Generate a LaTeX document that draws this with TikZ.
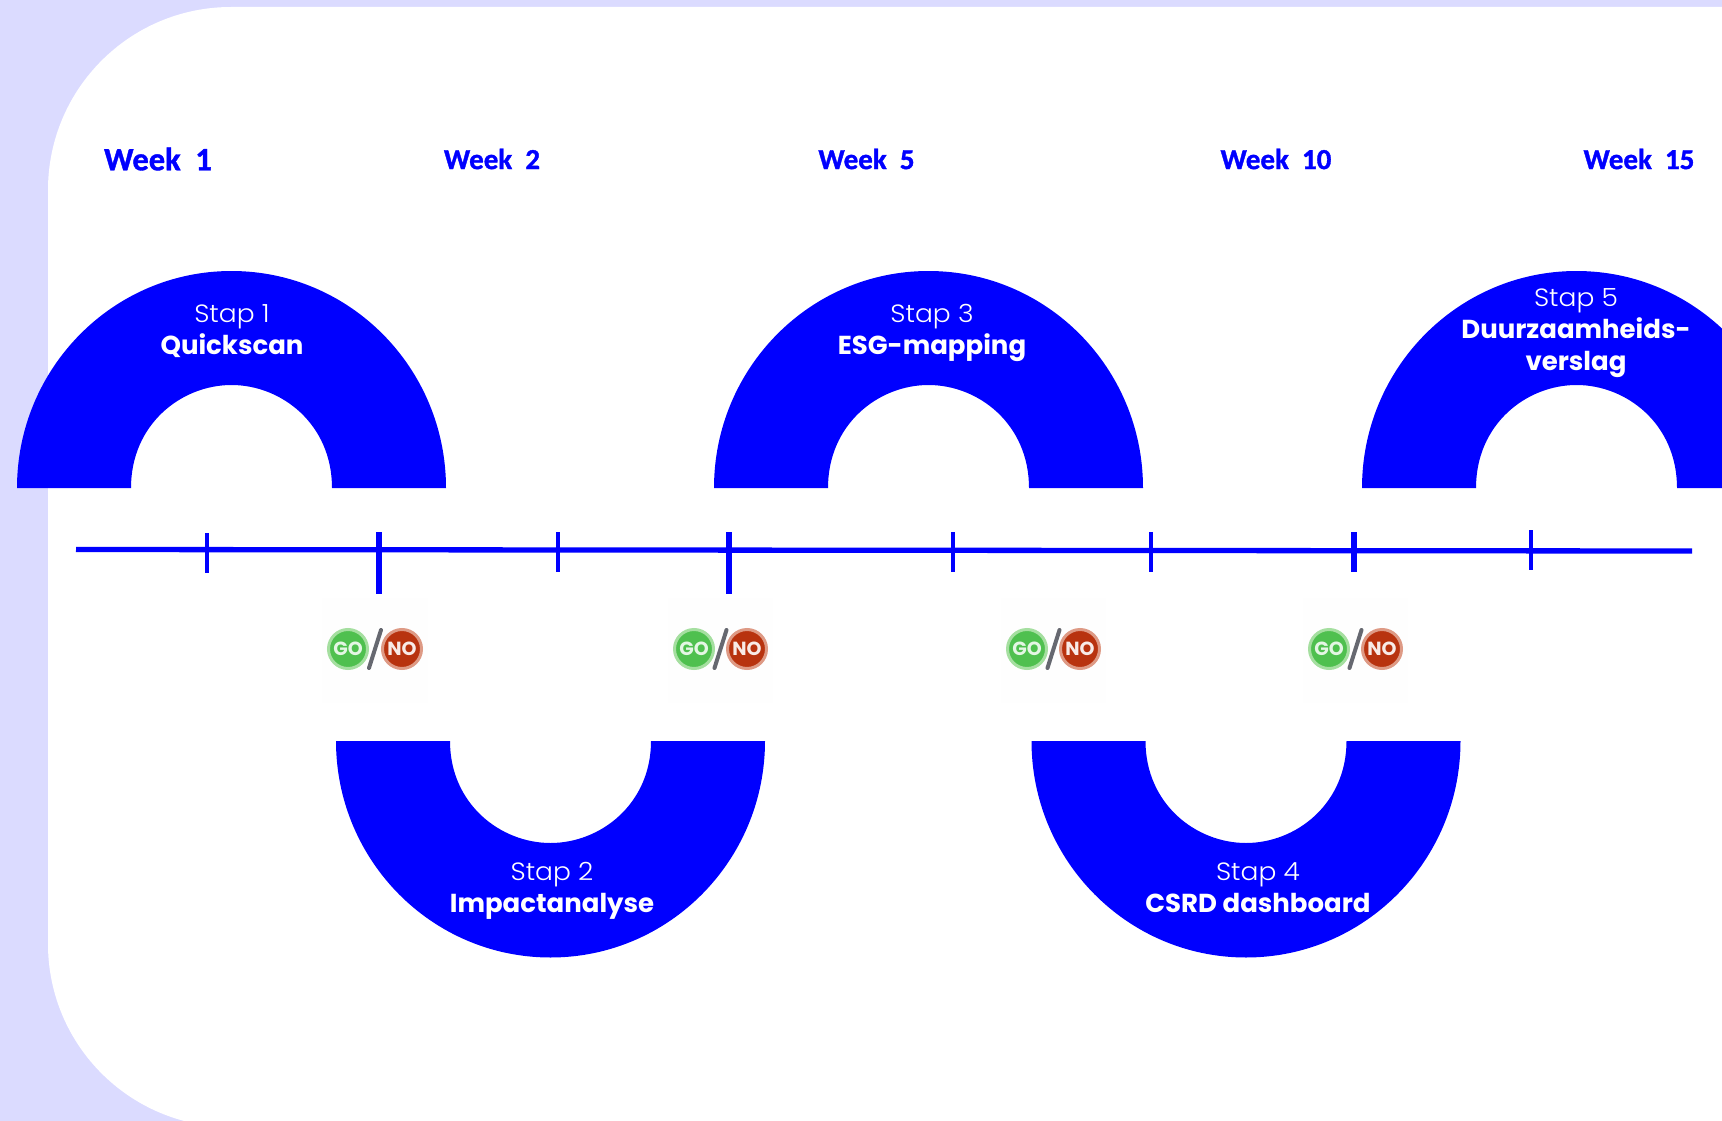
\documentclass[tikz,border=0pt]{standalone}
\usepackage{fontspec}
\setmainfont{Poppins}
\newfontfamily\stapfont[FakeStretch=1.06]{Poppins Light}
\newfontfamily\namefont[FakeStretch=1.0]{Poppins Bold}
\newfontfamily\weekfont[FakeBold=1.2]{Carlito Bold}
\definecolor{bg}{HTML}{DBDBFF}
\definecolor{brand}{HTML}{0000FF}
\definecolor{gofill}{HTML}{4FC04F}
\definecolor{goedge}{HTML}{A5DFA0}
\definecolor{nofill}{HTML}{B8330F}
\definecolor{noedge}{HTML}{DE9A85}
\definecolor{slashc}{HTML}{666870}
\definecolor{haze}{HTML}{FEFEFE}
\tikzset{
  archshape/.style={fill=brand,draw=none},
  stapl/.style={text=white,font=\stapfont\fontsize{25}{25}\selectfont,inner sep=0pt,anchor=base},
  namel/.style={text=white,font=\namefont\fontsize{26}{26}\selectfont,inner sep=0pt,anchor=base},
  weekl/.style={text=brand,font=\weekfont\fontsize{29}{29}\selectfont,inner sep=0pt},
  axisline/.style={draw=brand,line width=5.3pt},
  tickthin/.style={draw=brand,line width=4pt},
  tickthick/.style={draw=brand,line width=6pt},
  gobadge/.style={circle,fill=gofill,draw=goedge,line width=3pt,minimum size=39pt,inner sep=0pt,text=white!85!gofill,font=\fontsize{19}{19}\selectfont\bfseries},
  nobadge/.style={circle,fill=nofill,draw=noedge,line width=3pt,minimum size=39pt,inner sep=0pt,text=white!90!nofill,font=\fontsize{19}{19}\selectfont\bfseries},
  slashl/.style={draw=slashc,line width=4pt,line cap=round},
  hazebox/.style={fill=haze,draw=none}
}
\newcommand{\archup}[1]{%
  \fill[archshape] (#1-214.5,488) arc[start angle=180,end angle=0,x radius=214.5pt,y radius=217pt]
   -- (#1+100.5,488) .. controls (#1+100.5,424) and (#1+50,385) .. (#1,385)
   .. controls (#1-50,385) and (#1-100.5,424) .. (#1-100.5,488) -- cycle;}
\newcommand{\archdown}[1]{%
  \fill[archshape] (#1-214.5,741) arc[start angle=180,end angle=360,x radius=214.5pt,y radius=216.5pt]
   -- (#1+100.5,741) .. controls (#1+100.5,804) and (#1+50,843) .. (#1,843)
   .. controls (#1-50,843) and (#1-100.5,804) .. (#1-100.5,741) -- cycle;}
\newcommand{\gono}[3]{% name, go x, no x
  \fill[hazebox] (#2-26,598) rectangle (#3+26,703);
  \node[gobadge] (go#1) at (#2,649) {GO};
  \node[nobadge] (no#1) at (#3,649) {NO};
  \coordinate (sa#1) at ({(#2+#3)/2-6},668);
  \coordinate (sb#1) at ({(#2+#3)/2+6},630);
  \draw[slashl] (sa#1) -- (sb#1);}
\begin{document}
\begin{tikzpicture}[x=1pt,y=-1pt]
\useasboundingbox (0,0) rectangle (1722,1121);
\clip (0,0) rectangle (1722,1121);
\fill[bg] (0,0) rectangle (1722,1121);
\fill[white,rounded corners=183pt] (48,7) rectangle (2100,1127);
% arches
\archup{231.5}
\archup{928.5}
\archup{1576.5}
\archdown{550.5}
\archdown{1246}
% timeline
\coordinate (axA) at (76,549.5);
\coordinate (axB) at (1692,551);
\draw[axisline] (axA) -- (axB);
\draw[tickthin] (207,533) -- (207,573);
\draw[tickthick] (379,532) -- (379,594);
\draw[tickthin] (558,532) -- (558,572);
\draw[tickthick] (729,532) -- (729,594);
\draw[tickthin] (953,532) -- (953,572);
\draw[tickthin] (1151,532) -- (1151,572);
\draw[tickthick] (1353.5,532) -- (1353.5,572);
\draw[tickthin] (1531,530) -- (1531,570);
% badges
\gono{a}{348}{402}
\gono{b}{694}{747}
\gono{c}{1027}{1080}
\gono{d}{1329}{1382}
% weeks
\node[weekl,font=\weekfont\fontsize{32.5}{32.5}\selectfont] (w1) at (158,159) {Week\ \ 1};
\node[weekl] (w2) at (492,159) {Week\ \ 2};
\node[weekl] (w3) at (866.5,159) {Week\ \ 5};
\node[weekl] (w4) at (1276,159) {Week\ \ 10};
\node[weekl] (w5) at (1639,159) {Week\ \ 15};
% labels
\node[stapl] (s1) at (232,322) {Stap 1};
\node[namel] (n1) at (232,354) {Quickscan};
\node[stapl] (s2) at (552,880) {Stap 2};
\node[namel] (n2) at (552,912) {Impactanalyse};
\node[stapl] (s3) at (932,322) {Stap 3};
\node[namel] (n3) at (932,354) {ESG-mapping};
\node[stapl] (s4) at (1258,880) {Stap 4};
\node[namel] (n4) at (1258,912) {CSRD dashboard};
\node[stapl] (s5) at (1576,306) {Stap 5};
\node[namel] (n5) at (1576,338) {Duurzaamheids-};
\node[namel] (n5b) at (1576,370) {verslag};
\end{tikzpicture}
\end{document}
